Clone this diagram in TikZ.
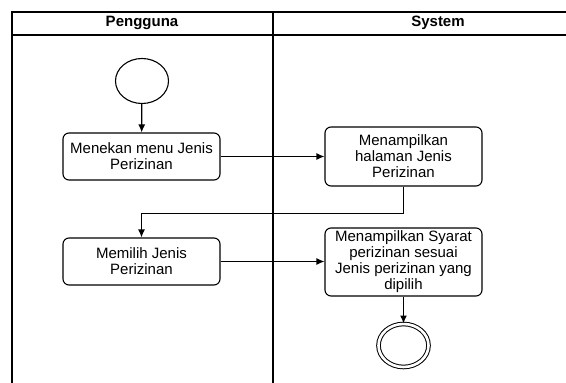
\documentclass[tikz,border=0pt]{standalone}
\usepackage{fontspec}
\setmainfont{Liberation Sans}
\usepackage{tikz}
\usetikzlibrary{calc, arrows, shapes, arrows.meta}
\tikzset{>={Latex[length=8pt,width=7pt]}}

\begin{document}
\begin{tikzpicture}[x=1pt, y=-1pt,
  font=\fontsize{15}{16}\selectfont,
  lane/.style={line width=1.4pt},
  act/.style={draw, rounded corners=6pt, line width=1.1pt, align=center,
    minimum width=157pt, inner sep=2pt},
  initial/.style={draw, ellipse, line width=1.1pt, minimum width=53pt,
    minimum height=45pt, inner sep=0pt},
  final/.style={draw, ellipse, line width=1pt, double, double distance=2.6pt,
    minimum width=50pt, minimum height=43pt, inner sep=0pt},
  flow/.style={->, line width=1.2pt}]
\useasboundingbox (0,0) rectangle (566,383);
\fill[white] (0,0) rectangle (566,383);

% swimlanes
\draw[lane] (566,12) -- (12,12) -- (12,383);
\draw[lane] (12,35) -- (566,35);
\draw[lane] (273,12) -- (273,383);
\node[font=\fontsize{15}{16}\selectfont\bfseries] (pengguna) at (142,23) {Pengguna};
\node[font=\fontsize{15}{16}\selectfont\bfseries] (system) at (438,23) {System};

% activities
\node[initial] (start) at (142,81) {};
\node[act, minimum height=47pt] (menekan) at (141.5,156.5) {Menekan menu Jenis\\Perizinan};
\node[act, minimum height=59pt] (halaman) at (403.5,156.5) {Menampilkan\\halaman Jenis\\Perizinan};
\node[act, minimum height=47pt] (memilih) at (141.5,261.5) {Memilih Jenis\\Perizinan};
\node[act, minimum height=68pt] (syarat) at (403.5,262) {Menampilkan Syarat\\perizinan sesuai\\Jenis perizinan yang\\dipilih};
\node[final] (end) at (403.5,345.5) {};

% transitions
\draw[flow] (start) -- (menekan);
\draw[flow] (menekan.east) -- (menekan.east -| halaman.west);
\draw[flow] (halaman.south) -- ++(0,27) -| (memilih.north);
\draw[flow] (memilih.east) -- (memilih.east -| syarat.west);
\draw[flow] (syarat.south) -- (end.north);
\end{tikzpicture}
\end{document}
